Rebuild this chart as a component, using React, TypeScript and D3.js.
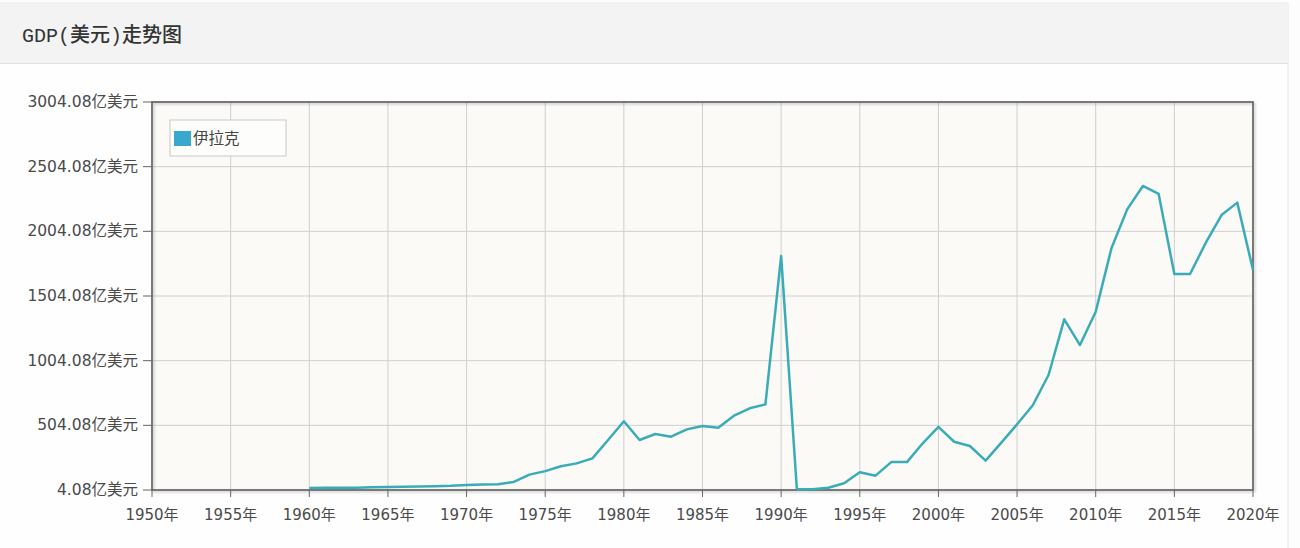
import { useEffect, useRef } from "react"
import * as d3 from "d3"

// 伊拉克 GDP（亿美元），读自原图
const years = [
  1960, 1961, 1962, 1963, 1964, 1965, 1966, 1967, 1968, 1969,
  1970, 1971, 1972, 1973, 1974, 1975, 1976, 1977, 1978, 1979,
  1980, 1981, 1982, 1983, 1984, 1985, 1986, 1987, 1988, 1989,
  1990, 1991, 1992, 1993, 1994, 1995, 1996, 1997, 1998, 1999,
  2000, 2001, 2002, 2003, 2004, 2005, 2006, 2007, 2008, 2009,
  2010, 2011, 2012, 2013, 2014, 2015, 2016, 2017, 2018, 2019, 2020,
]
const gdp = [
  20, 21, 22, 22, 25, 28, 30, 31, 34, 36,
  42, 46, 49, 66, 123, 150, 188, 210, 249, 391,
  536, 391, 437, 416, 473, 499, 486, 579, 636, 666,
  1813, 10, 10, 22, 56, 141, 115, 220, 220, 365,
  492, 377, 344, 231, 370, 512, 659, 893, 1324, 1125,
  1383, 1873, 2174, 2355, 2293, 1674, 1674, 1916, 2130, 2226, 1705,
]
const yTicks = [4.08, 504.08, 1004.08, 1504.08, 2004.08, 2504.08, 3004.08]
const xTicks = [1950, 1955, 1960, 1965, 1970, 1975, 1980, 1985, 1990, 1995, 2000, 2005, 2010, 2015, 2020]
const seriesName = "伊拉克"
const title = "GDP(美元)走势图"

const W = 1300
const H = 548
const plot = { left: 152, right: 1253, top: 102, bottom: 490 }
const font = "'DejaVu Sans', 'Noto Sans CJK SC', sans-serif"

export default function App() {
  const svgRef = useRef<SVGSVGElement>(null)

  useEffect(() => {
    if (!svgRef.current) return
    const svg = d3.select(svgRef.current)
    svg.selectAll("*").remove()

    const x = d3.scaleLinear().domain([1950, 2020]).range([plot.left, plot.right])
    const y = d3.scaleLinear().domain([4.08, 3004.08]).range([plot.bottom, plot.top])

    // 页面背景与面板
    svg.append("rect").attr("width", W).attr("height", H).attr("fill", "#fdfdfd")
    svg
      .append("rect")
      .attr("x", -1)
      .attr("y", 3)
      .attr("width", 1289)
      .attr("height", H)
      .attr("fill", "#fefefe")
      .attr("stroke", "#e6e6e6")
    svg
      .append("rect")
      .attr("x", 0)
      .attr("y", 4)
      .attr("width", 1288)
      .attr("height", 59)
      .attr("fill", "#f3f3f3")
    svg
      .append("line")
      .attr("x1", 0)
      .attr("x2", 1288)
      .attr("y1", 63.5)
      .attr("y2", 63.5)
      .attr("stroke", "#e0e0e0")
    svg
      .append("text")
      .attr("x", 22)
      .attr("y", 42)
      .attr("fill", "#333")
      .style("font-family", "'Liberation Mono', 'Noto Sans CJK SC', monospace")
      .style("font-size", "20px")
      .style("font-weight", "500")
      .text(title)

    // 阴影
    const defs = svg.append("defs")
    const f = defs.append("filter").attr("id", "shadow").attr("x", "-5%").attr("y", "-5%").attr("width", "110%").attr("height", "110%")
    f.append("feDropShadow").attr("dx", 1.5).attr("dy", 1.5).attr("stdDeviation", 1.2).attr("flood-color", "#000").attr("flood-opacity", 0.25)

    // 绘图区
    svg
      .append("rect")
      .attr("x", plot.left)
      .attr("y", plot.top)
      .attr("width", plot.right - plot.left)
      .attr("height", plot.bottom - plot.top)
      .attr("fill", "#fbfaf7")

    const g = svg.append("g")
    g.selectAll(".vgrid")
      .data(xTicks)
      .enter()
      .append("line")
      .attr("x1", (d) => x(d))
      .attr("x2", (d) => x(d))
      .attr("y1", plot.top)
      .attr("y2", plot.bottom)
      .attr("stroke", "#cfcfcf")
    g.selectAll(".hgrid")
      .data(yTicks)
      .enter()
      .append("line")
      .attr("x1", plot.left)
      .attr("x2", plot.right)
      .attr("y1", (d) => y(d))
      .attr("y2", (d) => y(d))
      .attr("stroke", "#cfcfcf")

    svg
      .append("rect")
      .attr("x", plot.left)
      .attr("y", plot.top)
      .attr("width", plot.right - plot.left)
      .attr("height", plot.bottom - plot.top)
      .attr("fill", "none")
      .attr("stroke", "#5a5a5a")
      .attr("stroke-width", 1.5)
      .attr("filter", "url(#shadow)")

    // 坐标轴刻度
    svg
      .selectAll(".ytick")
      .data(yTicks)
      .enter()
      .append("line")
      .attr("x1", plot.left - 9)
      .attr("x2", plot.left)
      .attr("y1", (d) => y(d))
      .attr("y2", (d) => y(d))
      .attr("stroke", "#666")
    svg
      .selectAll(".ylab")
      .data(yTicks)
      .enter()
      .append("text")
      .attr("x", plot.left - 14)
      .attr("y", (d) => y(d) + 5)
      .attr("text-anchor", "end")
      .attr("fill", "#4a4a4a")
      .style("font-family", font)
      .style("font-size", "15.5px")
      .text((d) => `${d.toFixed(2)}亿美元`)

    svg
      .selectAll(".xtick")
      .data(xTicks)
      .enter()
      .append("line")
      .attr("x1", (d) => x(d))
      .attr("x2", (d) => x(d))
      .attr("y1", plot.bottom)
      .attr("y2", plot.bottom + 7)
      .attr("stroke", "#666")
    svg
      .selectAll(".xlab")
      .data(xTicks)
      .enter()
      .append("text")
      .attr("x", (d) => x(d))
      .attr("y", plot.bottom + 30)
      .attr("text-anchor", "middle")
      .attr("fill", "#4a4a4a")
      .style("font-family", font)
      .style("font-size", "15px")
      .text((d) => `${d}年`)

    // 折线
    const line = d3
      .line<number>()
      .x((d, i) => x(years[i]))
      .y((d) => y(d))
    svg
      .append("path")
      .datum(gdp)
      .attr("d", line)
      .attr("fill", "none")
      .attr("stroke", "#3aacb8")
      .attr("stroke-width", 2.5)
      .attr("stroke-linejoin", "round")

    // 图例
    const legend = svg.append("g").attr("transform", "translate(170,120)")
    legend
      .append("rect")
      .attr("width", 116)
      .attr("height", 36)
      .attr("fill", "#fdfdfb")
      .attr("stroke", "#c8c8c8")
    legend
      .append("rect")
      .attr("x", 4)
      .attr("y", 11)
      .attr("width", 17)
      .attr("height", 15)
      .attr("fill", "#38a8cc")
    legend
      .append("text")
      .attr("x", 23)
      .attr("y", 24)
      .attr("fill", "#444")
      .style("font-family", font)
      .style("font-size", "15.5px")
      .text(seriesName)
  }, [])

  return (
    <svg
      ref={svgRef}
      width={W}
      height={H}
      style={{ position: "fixed", left: 0, top: 0, display: "block" }}
    />
  )
}
